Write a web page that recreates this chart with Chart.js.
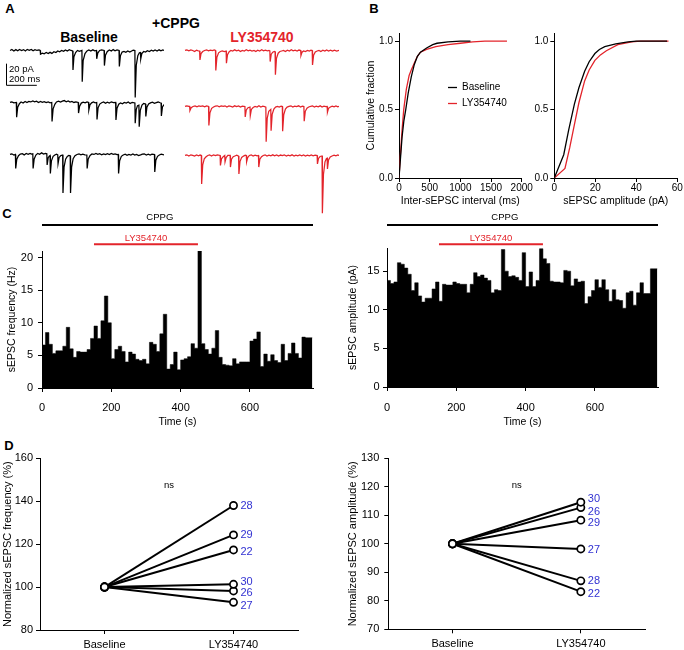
<!DOCTYPE html>
<html>
<head>
<meta charset="utf-8">
<script src="https://cdn.jsdelivr.net/npm/chart.js@4.4.1/dist/chart.umd.min.js"></script>
<style>
  body { margin: 0; width: 684px; height: 650px; position: relative; overflow: hidden; background: #fff;
         font-family: "Liberation Sans", Arial, Helvetica, sans-serif; }
  canvas { position: absolute; }
  .t { position: absolute; transform: translate(-50%, -50%); white-space: nowrap; line-height: 1; font-weight: bold; }
</style>
</head>
<body>

<div class="t" style="left:10px;top:8px;font-size:13px">A</div>
<div class="t" style="left:374px;top:8px;font-size:13px">B</div>
<div class="t" style="left:7px;top:213px;font-size:13px">C</div>
<div class="t" style="left:9px;top:445px;font-size:13px">D</div>
<div class="t" style="left:176px;top:23px;font-size:14px">+CPPG</div>
<div class="t" style="left:89px;top:37px;font-size:14px">Baseline</div>
<div class="t" style="left:262px;top:37px;font-size:14px;color:#e3242b">LY354740</div>

<script>
// ---- A: example traces, [ms, pA] ----
const traceBase1 = [[0,0],[12,1],[25,-0.5],[38,0.8],[50,-0.3],[62,1],[75,0],[88,0.8],[100,-0.5],[112,1],[125,0.2],[138,1],[150,-0.3],[162,0.8],[175,0],[188,0.6],[196,0],[198,-3.5],[210,-2.5],[222,-3.2],[235,-2],[248,-3],[260,-1.8],[272,-2.8],[285,-1.2],[298,-2],[310,-0.5],[322,-1.2],[335,0],[348,-0.8],[360,0.5],[372,-0.5],[385,0.8],[396,0],[407,-0.5],[409,-18.4],[415,-6],[426,-2],[438,0],[450,-0.8],[467,0],[469,-29.5],[475,-9.5],[487,-3],[500,-0.5],[512,0.5],[525,-0.5],[538,0.6],[550,-0.3],[561,0],[563,-7.9],[570,-2.5],[582,0],[595,0.6],[611,0],[613,-14.3],[620,-4.5],[632,-1],[645,0.5],[658,-0.5],[670,0.8],[682,-0.3],[695,0.5],[708,0],[710,-15.2],[717,-5],[728,-1.5],[740,-1],[752,-1.8],[765,-0.5],[778,-1.5],[790,-0.5],[800,0.3],[811,0],[813,-44.4],[820,-14],[830,-5],[840,-2.2],[847,-2],[849,-7.9],[856,-3],[868,-1],[880,-1.5],[892,-0.3],[905,-1],[918,0.2],[930,-0.6],[942,0.4],[955,-0.5],[968,0.6],[980,-0.3],[992,0.5],[1000,0]];
const traceBase2 = [[0,0],[12,0.6],[25,-0.4],[41,0],[43,-14],[50,-4.5],[61,-1.2],[72,0.5],[85,-0.5],[98,1],[110,0],[122,1],[135,0.5],[148,1.5],[160,0.6],[172,1.2],[185,0],[198,1],[210,0.2],[222,0.8],[235,-0.2],[248,0.6],[260,-0.4],[271,0],[273,-18],[280,-6],[291,-1.8],[302,0.5],[315,1.2],[328,0.4],[340,1.2],[352,1.8],[365,0.6],[378,1.5],[390,0.4],[402,1],[415,0],[428,0.6],[443,0],[445,-10],[452,-3.5],[463,-0.6],[475,0.3],[488,-0.3],[500,0.6],[510,0],[512,-7],[519,-2.2],[530,-0.4],[542,0.4],[553,-0.3],[563,0],[565,-16],[572,-5],[583,-1.5],[595,-0.3],[608,0.4],[620,-0.8],[632,0.2],[645,-0.5],[658,0.6],[672,-0.2],[686,0],[688,-16.5],[695,-5.5],[706,-1.6],[718,-0.5],[730,-1.2],[742,0],[755,-0.6],[768,0.4],[780,-1],[793,0],[811,-0.5],[813,-19.7],[820,-6.5],[828,-3],[837,-2.5],[839,-22.9],[846,-7.5],[857,-2.5],[868,-1],[880,-1.5],[882,-13.3],[889,-4.5],[900,-1.5],[912,-0.4],[925,0.3],[938,-0.8],[950,-0.2],[962,0.4],[975,-0.3],[981,-0.5],[983,-12.7],[990,-4.2],[1000,-2]];
const traceBase3 = [[0,0],[12,0.6],[25,-0.5],[35,0],[37,-13.3],[44,-4.5],[55,-1.2],[67,0.3],[80,0.8],[92,-0.4],[105,1],[118,0.2],[130,1],[140,0.3],[148,0.6],[150,-13.3],[157,-4.2],[168,-0.6],[180,1],[192,0.2],[205,1.5],[218,0.3],[230,1],[239,0.6],[241,-10],[248,-3],[255,-1.6],[260,-1],[262,-18],[269,-6],[280,-1.8],[291,-0.5],[302,0.3],[310,-0.4],[312,-8.6],[319,-2.8],[330,-1],[342,-0.6],[344,-36.5],[351,-12],[361,-4.5],[372,-1.8],[382,-1],[391,-1.2],[393,-36.5],[400,-12],[410,-4],[422,-1.2],[435,0],[448,0.6],[460,-0.4],[473,0.3],[486,-0.3],[499,-0.5],[501,-13.3],[508,-4.2],[520,-1],[532,0.5],[545,0],[558,1],[570,0.2],[582,0.8],[595,-0.3],[608,0.6],[620,-0.2],[633,0.8],[645,0],[658,1],[670,0.2],[682,0.6],[695,-0.2],[703,0],[705,-18],[712,-6],[723,-1.8],[735,-0.5],[748,0.3],[760,-0.8],[772,0],[785,-0.5],[798,0.4],[810,-0.6],[822,0],[835,-1],[848,-0.4],[860,0.3],[872,0.6],[885,-0.5],[898,0.2],[910,-0.5],[922,0.3],[938,0],[940,-16.5],[947,-5.5],[958,-1.8],[970,-0.5],[982,0.3],[1000,-0.3]];
const traceLy1 = [[0,0],[12,0.6],[25,-0.4],[38,0.6],[50,0],[62,-1],[75,0.3],[86,-0.3],[95,-0.5],[97,-8.9],[104,-3],[115,-1],[127,0],[140,0.6],[152,-0.4],[165,0.3],[178,-0.2],[190,0.6],[198,0],[200,-19],[207,-6.5],[218,-2.2],[230,-1],[242,-0.5],[255,-1],[267,-0.6],[269,-12],[276,-4],[287,-1.2],[298,0],[310,-0.5],[322,0.6],[335,-0.4],[348,0.2],[360,-1],[372,0],[385,-0.5],[398,0.6],[410,-0.4],[422,0.3],[435,-0.6],[448,0],[460,-1],[472,0.2],[485,-0.5],[498,0.6],[510,-0.4],[522,0.2],[535,-0.3],[545,0],[551,-0.5],[553,-10.5],[560,-3.5],[570,-1.6],[580,-1],[585,-1.2],[587,-23],[594,-7.5],[605,-2.6],[616,-1],[628,-0.5],[640,0],[652,-1],[665,0.2],[678,-0.5],[690,0.6],[702,-0.4],[715,0.2],[728,-0.5],[740,0.4],[751,0],[753,-4.8],[760,-1.6],[770,-0.5],[782,-1],[795,0],[808,-0.6],[818,0.2],[826,0],[828,-13.7],[835,-4.5],[846,-1.5],[858,-0.5],[870,0],[882,-1],[895,0.2],[908,-0.6],[920,0.5],[932,-0.5],[945,0.3],[958,-0.6],[970,0.2],[985,-0.5],[1000,0]];
const traceLy2 = [[0,0],[12,0.6],[25,0],[30,0],[32,-3.8],[40,-1.2],[52,0],[65,0.6],[78,-0.4],[90,0.6],[102,0],[115,0.6],[128,-0.4],[140,0.5],[153,0],[155,-18],[162,-6],[173,-1.8],[185,-0.5],[197,0.3],[210,0.6],[222,-0.4],[235,0.6],[248,0],[260,0.6],[272,-0.5],[285,0.5],[298,0],[310,-0.5],[322,0.6],[335,-0.2],[348,0.5],[360,-0.6],[372,0.3],[389,0],[391,-10],[398,-3.3],[409,-1.2],[422,-0.6],[424,-8.6],[431,-2.8],[442,-1],[455,0],[468,-0.5],[480,0.6],[492,-0.5],[505,0.3],[517,-0.2],[525,-0.6],[527,-33.3],[534,-11],[544,-4.5],[557,-2.8],[559,-22.9],[566,-7.5],[577,-2.4],[588,-0.6],[600,0],[612,-0.6],[624,0.3],[632,0],[634,-23.5],[641,-8],[652,-2.4],[663,-0.6],[675,0],[688,0.6],[700,-0.5],[712,0.3],[725,-0.2],[738,0.6],[750,-0.5],[762,0.2],[772,0],[774,-14],[781,-4.6],[792,-1.6],[803,-0.5],[815,0],[828,0.6],[840,-0.5],[852,0.2],[865,-0.3],[878,0.6],[890,-0.5],[902,0.2],[915,-0.2],[923,0],[925,-5.4],[932,-1.8],[944,-0.5],[956,0.3],[968,-0.3],[980,0.5],[992,-0.4],[1000,0]];
const traceLy3 = [[0,0],[12,0.6],[25,-0.5],[38,0.6],[50,0],[62,-0.6],[75,0.5],[88,-0.3],[98,0.4],[106,0],[108,-27],[115,-9],[125,-3.2],[137,-1.2],[148,0],[160,0.6],[172,-0.5],[185,0.6],[198,-0.2],[210,0.6],[228,0],[230,-9.5],[237,-3.2],[248,-1.2],[258,0],[260,-6],[267,-2],[278,0],[293,0],[295,-11],[302,-3.6],[313,-1.2],[324,-0.5],[336,0.2],[348,-0.6],[350,-17.5],[357,-5.8],[368,-1.8],[380,-0.6],[391,0.3],[398,0],[400,-6],[407,-2],[418,0],[430,0.6],[442,-0.5],[455,0.3],[468,-0.3],[477,0],[479,-11],[486,-3.6],[497,-1.2],[508,0],[520,0.6],[532,-0.5],[545,0.3],[558,-0.4],[570,0.6],[582,-0.3],[595,0.5],[608,-0.5],[620,0.4],[632,-0.2],[645,0.6],[658,-0.5],[670,0.3],[682,-0.3],[695,0.6],[708,-0.5],[720,0.3],[732,-0.4],[745,0.5],[758,-0.3],[770,0.4],[782,-0.5],[795,0.3],[808,-0.4],[820,0.5],[832,-0.3],[845,0.2],[858,0],[860,-8],[867,-2.8],[877,-1],[890,-0.5],[892,-54.6],[899,-18],[909,-6],[918,-3],[923,-2.5],[925,-12.7],[932,-4.2],[943,-1.5],[955,-0.5],[968,0.3],[980,-0.3],[992,0.4],[1000,0]];

// ---- B: cumulative distributions ----
const isiMsBase   = [0, 20, 50, 80, 110, 150, 200, 250, 300, 350, 450, 550, 620, 800, 1000, 1165];
const isiFracBase = [0, 0.12, 0.30, 0.42, 0.50, 0.62, 0.74, 0.83, 0.89, 0.92, 0.95, 0.975, 0.985, 0.995, 1.0, 1.0];
const isiMsLy     = [0, 20, 50, 77, 120, 165, 200, 250, 300, 350, 450, 600, 800, 1000, 1200, 1400, 1760];
const isiFracLy   = [0, 0.15, 0.35, 0.50, 0.65, 0.75, 0.79, 0.84, 0.89, 0.92, 0.94, 0.96, 0.975, 0.985, 0.995, 1.0, 1.0];
const ampPaBase   = [0, 4.6, 7, 9.8, 12, 14.8, 17, 19.8, 22, 24.6, 30, 36, 40, 55];
const ampFracBase = [0, 0.17, 0.35, 0.54, 0.66, 0.78, 0.85, 0.91, 0.94, 0.96, 0.98, 0.995, 1.0, 1.0];
const ampPaLy     = [0, 5.2, 7.5, 9.8, 12, 14.8, 17, 19.8, 22.5, 25.4, 31, 37.7, 42, 55.7];
const ampFracLy   = [0, 0.07, 0.22, 0.39, 0.55, 0.71, 0.79, 0.86, 0.90, 0.93, 0.975, 0.995, 1.0, 1.0];

// ---- C: 10 s bins over time ----
const binWidth = 10;
const freqHz = [7.4,6.6,8.5,6.7,5.3,5.7,5.7,6.4,9.3,6.0, 4.7,5.6,5.5,5.5,5.9,7.6,9.5,7.6,10.3,14.1,
  10.0,4.5,5.9,6.4,5.6,4.0,5.5,5.2,4.4,4.2, 4.4,3.7,7.0,6.7,5.6,8.3,11.3,2.9,3.6,5.5,
  2.8,4.3,4.5,4.8,6.8,6.1,21.0,6.8,5.9,5.2, 6.1,8.8,4.7,3.6,3.5,3.4,4.5,3.7,4.0,4.0,
  4.0,7.2,7.5,8.6,3.3,5.2,4.1,5.1,4.2,3.9, 6.7,4.2,5.3,6.9,5.3,4.6,7.8,7.7];
const ampPa = [13.9,13.8,13.4,13.6,16.1,15.9,15.4,14.6,12.5,13.5, 11.8,11.0,11.5,11.5,12.7,13.6,11.1,13.3,13.2,13.2,
  13.6,13.4,13.3,13.3,12.2,13.3,14.8,14.3,14.5,14.1, 13.8,12.2,12.6,12.5,17.8,15.0,14.3,14.4,14.2,13.8,
  17.4,13.0,14.9,13.0,13.8,17.9,16.6,16.0,13.7,13.6, 13.6,13.5,15.1,15.0,13.1,14.0,13.6,13.7,10.8,11.7,
  12.5,13.9,12.9,13.9,12.6,11.1,12.6,11.3,11.2,10.2, 12.2,12.4,10.6,12.2,13.5,12.1,12.1,15.3];
const cppgSpan = [0, 782];
const lySpan = [150, 450];

// ---- D: normalized per cell ----
const conditions = ['Baseline', 'LY354740'];
const freqCells = ['28', '29', '22', '30', '26', '27'];
const freqAfter = [138, 124.3, 117.3, 101.3, 98.2, 92.9];
const ampCells = ['30', '26', '29', '27', '28', '22'];
const ampAfter = [114.6, 112.7, 108.3, 98.2, 87, 83.2];

const FONT = '"Liberation Sans", Arial, Helvetica, sans-serif';
const RED = '#e3242b';
const BLUE = '#3232d2';

function mk(left, top, w, h) {
  const c = document.createElement('canvas');
  c.width = w; c.height = h;
  c.style.left = left + 'px'; c.style.top = top + 'px';
  document.body.appendChild(c);
  return c;
}

function pairs(xs, ys) { return xs.map((x, i) => ({x, y: ys[i]})); }

const plain = v => String(v);

function axis(o) {
  const ticks = {color: '#000', font: {family: FONT, size: o.tickSize}, padding: o.tickPad, maxRotation: 0, autoSkip: false};
  if (o.fmt) ticks.callback = o.fmt;
  const a = {
    type: o.type || 'linear',
    offset: !!o.offset,
    afterFit: s => { if (o.width) s.width = o.width; if (o.height) s.height = o.height; },
    border: {display: true, color: '#000', width: 1},
    grid: {display: true, drawOnChartArea: false, drawTicks: true, tickLength: 4, color: '#000', offset: false},
    ticks,
    title: o.title
      ? {display: true, text: o.title, color: '#000', font: {family: FONT, size: o.titleSize}, padding: o.titlePad}
      : {display: false}
  };
  if (o.min !== undefined) { a.min = o.min; a.max = o.max; }
  if (o.tickVals) a.afterBuildTicks = s => { s.ticks = o.tickVals.map(v => ({value: v})); };
  return a;
}

function base(pad) {
  return {
    animation: false, responsive: false, events: [],
    layout: {autoPadding: false, padding: Object.assign({top: 0, right: 0, bottom: 0, left: 0}, pad)},
    plugins: {legend: {display: false}, tooltip: {enabled: false}}
  };
}

// ---------------- A ----------------
const scaleBar = {
  id: 'scaleBar',
  afterDraw(chart) {
    const {ctx, scales: {x, y}} = chart;
    const x0 = x.getPixelForValue(-26), y0 = y.getPixelForValue(-32.5);
    const x1 = x.getPixelForValue(-26 + 200), y1 = y.getPixelForValue(-32.5 + 20);
    ctx.save();
    ctx.strokeStyle = '#000'; ctx.lineWidth = 1;
    ctx.beginPath(); ctx.moveTo(x0 + 0.5, y1); ctx.lineTo(x0 + 0.5, y0 + 0.5); ctx.lineTo(x1, y0 + 0.5); ctx.stroke();
    ctx.fillStyle = '#000'; ctx.font = '9.5px ' + FONT; ctx.textBaseline = 'middle';
    ctx.fillText('20 pA', x0 + 3, y0 - 15.5);
    ctx.fillText('200 ms', x0 + 3, y0 - 5);
    ctx.restore();
  }
};

function traceChart(left, baselineY, pts, color, extra) {
  const c = mk(left, baselineY - 8.5, 164, 74);
  const opts = base({});
  opts.scales = {x: {type: 'linear', display: false, min: -65, max: 1000}, y: {display: false, min: -62, max: 8}};
  new Chart(c, {
    type: 'line',
    data: {datasets: [{data: pts.map(([x, y]) => ({x, y})), borderColor: color, borderWidth: 1.25, pointRadius: 0, tension: 0}]},
    options: opts,
    plugins: extra ? [extra] : []
  });
}
traceChart(0, 50.7, traceBase1, '#000', scaleBar);
traceChart(0, 102.7, traceBase2, '#000');
traceChart(0, 154.3, traceBase3, '#000');
traceChart(175, 50.7, traceLy1, RED);
traceChart(175, 106, traceLy2, RED);
traceChart(175, 155, traceLy3, RED);

// ---------------- B ----------------
const cumLegend = {
  id: 'cumLegend',
  afterDraw(chart) {
    const {ctx} = chart;
    ctx.save();
    ctx.lineWidth = 1.3; ctx.font = '10px ' + FONT; ctx.textBaseline = 'middle';
    [['Baseline', '#000', 67.5], ['LY354740', RED, 83.5]].forEach(([t, col, y]) => {
      ctx.strokeStyle = col;
      ctx.beginPath(); ctx.moveTo(108, y); ctx.lineTo(117, y); ctx.stroke();
      ctx.fillStyle = '#000'; ctx.fillText(t, 122, y);
    });
    ctx.restore();
  }
};

function cumDataset(xs, ys, color) {
  return {data: pairs(xs, ys), borderColor: color, borderWidth: 1.3, pointRadius: 0, tension: 0};
}

let o = base({top: 13, right: 18.3});
o.scales = {
  x: axis({min: 0, max: 2000, tickVals: [0, 500, 1000, 1500, 2000], height: 34, tickSize: 10, tickPad: 0, fmt: plain,
           title: 'Inter-sEPSC interval (ms)', titleSize: 10.5, titlePad: {top: 0, bottom: 4.7}}),
  y: axis({min: 0, max: 1.06, tickVals: [0, 0.5, 1], width: 59, tickSize: 10, tickPad: 2, fmt: v => v.toFixed(1),
           title: 'Cumulative fraction', titleSize: 10.5, titlePad: {top: 24.7, bottom: 0}})
};
new Chart(mk(340, 20, 200, 192), {
  type: 'line',
  data: {datasets: [cumDataset(isiMsBase, isiFracBase, '#000'), cumDataset(isiMsLy, isiFracLy, RED)]},
  options: o,
  plugins: [cumLegend]
});

o = base({top: 13, right: 6.7});
o.scales = {
  x: axis({min: 0, max: 60, tickVals: [0, 20, 40, 60], height: 34, tickSize: 10, tickPad: 0, fmt: plain,
           title: 'sEPSC amplitude (pA)', titleSize: 10.5, titlePad: {top: 0, bottom: 4.7}}),
  y: axis({min: 0, max: 1.06, tickVals: [0, 0.5, 1], width: 24.3, tickSize: 10, tickPad: 2, fmt: v => v.toFixed(1)})
};
new Chart(mk(530, 20, 154, 192), {
  type: 'line',
  data: {datasets: [cumDataset(ampPaBase, ampFracBase, '#000'), cumDataset(ampPaLy, ampFracLy, RED)]},
  options: o
});

// ---------------- C ----------------
const drugBars = {
  id: 'drugBars',
  afterDraw(chart) {
    const {ctx, scales: {x}} = chart;
    ctx.save();
    ctx.lineWidth = 2;
    ctx.strokeStyle = '#000';
    ctx.beginPath(); ctx.moveTo(x.getPixelForValue(cppgSpan[0]), 17); ctx.lineTo(x.getPixelForValue(cppgSpan[1]), 17); ctx.stroke();
    ctx.strokeStyle = RED;
    ctx.beginPath(); ctx.moveTo(x.getPixelForValue(lySpan[0]), 36.3); ctx.lineTo(x.getPixelForValue(lySpan[1]), 36.3); ctx.stroke();
    ctx.font = '9.5px ' + FONT; ctx.textAlign = 'center'; ctx.textBaseline = 'middle';
    ctx.fillStyle = '#000'; ctx.fillText('CPPG', x.getPixelForValue(340), 9.7);
    ctx.fillStyle = RED; ctx.fillText('LY354740', x.getPixelForValue((lySpan[0] + lySpan[1]) / 2), 30);
    ctx.restore();
  }
};

function histData(vals) {
  const pts = vals.map((v, i) => ({x: i * binWidth, y: v}));
  pts.push({x: vals.length * binWidth, y: vals[vals.length - 1]});
  return {data: pts, stepped: 'after', fill: 'origin', backgroundColor: '#000', borderColor: '#000', borderWidth: 0.5, pointRadius: 0};
}

o = base({top: 43, right: 27});
o.scales = {
  x: axis({min: 0, max: 782, tickVals: [0, 200, 400, 600], height: 42, tickSize: 11, tickPad: 9, fmt: plain,
           title: 'Time (s)', titleSize: 10.5, titlePad: {top: 0, bottom: 1.4}}),
  y: axis({min: 0, max: 21, tickVals: [0, 5, 10, 15, 20], width: 42, tickSize: 11, tickPad: 5,
           title: 'sEPSC frequency (Hz)', titleSize: 10.5, titlePad: {top: 6, bottom: 0}})
};
new Chart(mk(0, 208, 340, 222), {type: 'line', data: {datasets: [histData(freqHz)]}, options: o, plugins: [drugBars]});

o = base({top: 40, right: 26});
o.scales = {
  x: axis({min: 0, max: 782, tickVals: [0, 200, 400, 600], height: 43, tickSize: 11, tickPad: 10, fmt: plain,
           title: 'Time (s)', titleSize: 10.5, titlePad: {top: 0, bottom: 1.4}}),
  y: axis({min: 0, max: 18, tickVals: [0, 5, 10, 15], width: 47, tickSize: 11, tickPad: 3.4,
           title: 'sEPSC amplitude (pA)', titleSize: 10.5, titlePad: {top: 6.7, bottom: 0}})
};
new Chart(mk(340, 208, 344, 222), {type: 'line', data: {datasets: [histData(ampPa)]}, options: o, plugins: [drugBars]});

// ---------------- D ----------------
const cellTags = {
  id: 'cellTags',
  afterDatasetsDraw(chart, args, opts) {
    const {ctx} = chart;
    ctx.save();
    ctx.font = '11px ' + FONT; ctx.fillStyle = BLUE; ctx.textBaseline = 'middle'; ctx.textAlign = 'left';
    chart.data.datasets.forEach((ds, i) => {
      const pt = chart.getDatasetMeta(i).data[1];
      ctx.fillText(opts.ids[i], pt.x + 7, pt.y + opts.nudge[i]);
    });
    ctx.fillStyle = '#000'; ctx.font = '9.5px ' + FONT; ctx.textAlign = 'center';
    ctx.fillText('ns', (chart.chartArea.left + chart.chartArea.right) / 2, chart.scales.y.getPixelForValue(opts.nsAt));
    ctx.restore();
  }
};

function pairedSets(after) {
  return after.map(v => ({
    data: [100, v], borderColor: '#000', borderWidth: 2, pointRadius: 3.6, pointBorderWidth: 1.7,
    pointBackgroundColor: '#fff', pointBorderColor: '#000', tension: 0
  }));
}

o = base({top: 18.3, right: 42});
o.scales = {
  x: axis({type: 'category', offset: true, height: 20, tickSize: 11, tickPad: 4.4}),
  y: axis({min: 80, max: 160, tickVals: [80, 100, 120, 140, 160], width: 40, tickSize: 11, tickPad: 3,
           title: 'Normalized sEPSC frequency (%)', titleSize: 11, titlePad: {top: 1, bottom: 0}})
};
o.plugins.cellTags = {ids: freqCells, nudge: [0, 0, 2, -2, 2, 4], nsAt: 147.6};
new Chart(mk(0, 440, 340, 210), {type: 'line', data: {labels: conditions, datasets: pairedSets(freqAfter)}, options: o, plugins: [cellTags]});

o = base({top: 18.3, right: 39});
o.scales = {
  x: axis({type: 'category', offset: true, height: 20.7, tickSize: 11, tickPad: 4.4}),
  y: axis({min: 70, max: 130, tickVals: [70, 80, 90, 100, 110, 120, 130], width: 48.3, tickSize: 11, tickPad: 5,
           title: 'Normalized sEPSC amplitude (%)', titleSize: 11, titlePad: {top: 6.4, bottom: 0}})
};
o.plugins.cellTags = {ids: ampCells, nudge: [-3, 4, 3, 1, 0, 2], nsAt: 120.6};
new Chart(mk(340, 440, 344, 210), {type: 'line', data: {labels: conditions, datasets: pairedSets(ampAfter)}, options: o, plugins: [cellTags]});
</script>
</body>
</html>
